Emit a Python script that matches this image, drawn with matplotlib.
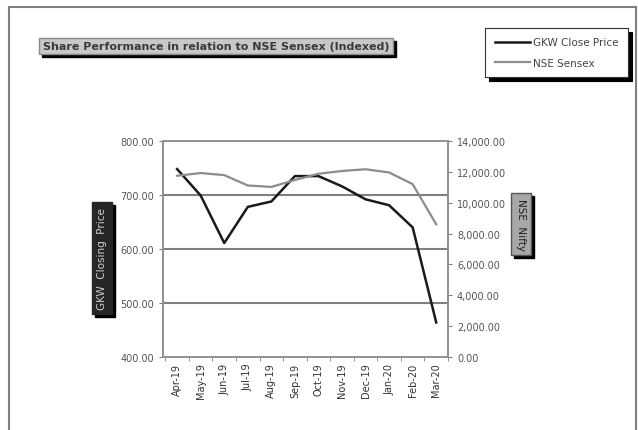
import matplotlib.pyplot as plt
from matplotlib.patches import Rectangle

months = ['Apr-19', 'May-19', 'Jun-19', 'Jul-19', 'Aug-19', 'Sep-19',
          'Oct-19', 'Nov-19', 'Dec-19', 'Jan-20', 'Feb-20', 'Mar-20']
gkw_close = [748, 699, 611, 678, 688, 735, 735, 716, 692, 681, 640, 464]
nse_nifty = [11748, 11923, 11789, 11118, 11023, 11474, 11877, 12056, 12168, 11962, 11202, 8598]

fig = plt.figure(figsize=(6.38, 4.31), dpi=100)
fig.patch.set_facecolor('white')

# outer chart frame
fig.patches.append(Rectangle((9 / 638, -0.1), 627 / 638, 1.1 - 8 / 431, transform=fig.transFigure,
                             fill=False, edgecolor='#808080', linewidth=1.5))

ax = fig.add_axes([163 / 638, 1 - 358 / 431, 285 / 638, 216 / 431])
ax2 = ax.twinx()

x = range(len(months))
l1, = ax.plot(x, gkw_close, color='#1a1a1a', linewidth=1.8, label='GKW Close Price', zorder=3)
l2, = ax2.plot(x, nse_nifty, color='#8c8c8c', linewidth=1.6, label='NSE Sensex', zorder=3)

ax.set_ylim(400, 800)
ax.set_yticks([400, 500, 600, 700, 800])
ax.set_yticklabels(['%.2f' % v for v in [400, 500, 600, 700, 800]])
ax2.set_ylim(0, 14000)
ax2.set_yticks(range(0, 14001, 2000))
ax2.set_yticklabels(['{:,.2f}'.format(v) for v in range(0, 14001, 2000)])

ax.set_xlim(-0.6, 11.5)
ax.set_xticks(list(x))
ax.set_xticklabels(months, rotation=90)
ax.set_xticks([i + 0.5 for i in range(-1, 12)], minor=True)
ax.tick_params(axis='x', which='major', length=0, labelsize=7, colors='#333333', pad=4)
ax.tick_params(axis='x', which='minor', length=3, color='#808080', direction='out')
ax.tick_params(axis='y', length=3, labelsize=7, colors='#555555', direction='out')
ax2.tick_params(axis='y', length=3, labelsize=7, colors='#555555', direction='out')
for a in (ax, ax2):
    a.tick_params(axis='y', color='#808080')

for v in [500, 600, 700]:
    ax.axhline(v, color='#808080', linewidth=1.5, zorder=1)

for a in (ax, ax2):
    for s in a.spines.values():
        s.set_color('#909090')
        s.set_linewidth(1.2)

# title and axis label boxes (shadows added after a draw)
t_title = fig.text(216 / 638, 1 - 47 / 431, 'Share Performance in relation to NSE Sensex (Indexed)',
                   ha='center', va='center', fontsize=8, fontweight='bold', color='#3a3a3a',
                   bbox=dict(boxstyle='square,pad=0.3', facecolor='#c8c8c8', edgecolor='#8a8a8a'))
t_left = fig.text(102 / 638, 1 - 259 / 431, 'GKW  Closing  Price', rotation=90, ha='center',
                  va='center', fontsize=7.5, color='#d0d0d0',
                  bbox=dict(boxstyle='square,pad=0.45', facecolor='#262626', edgecolor='#262626'))
t_right = fig.text(521 / 638, 1 - 225 / 431, 'NSE  Nifty', rotation=270, ha='center',
                   va='center', fontsize=7.5, color='#222222',
                   bbox=dict(boxstyle='square,pad=0.45', facecolor='#a8a8a8', edgecolor='#555555'))

leg = fig.legend(handles=[l1, l2], loc='upper right', bbox_to_anchor=(628 / 638, 1 - 29 / 431),
                 fontsize=7.5, frameon=True, fancybox=False, handlelength=3.4,
                 labelspacing=1.0, borderpad=0.9, handletextpad=0.3, borderaxespad=0.0,
                 shadow={'color': 'black', 'alpha': 1.0, 'ox': 3, 'oy': -3})
leg.get_frame().set_edgecolor('#333333')
leg.get_frame().set_linewidth(0.8)
for t in leg.get_texts():
    t.set_color('#444444')

fig.canvas.draw()
for t in (t_title, t_left, t_right):
    bb = t.get_bbox_patch().get_window_extent()
    fig.patches.append(Rectangle((bb.x0 + 3, bb.y0 - 3), bb.width, bb.height, transform=None,
                                 facecolor='black', edgecolor='black', zorder=0))

fig.savefig('out.png', dpi=100)
